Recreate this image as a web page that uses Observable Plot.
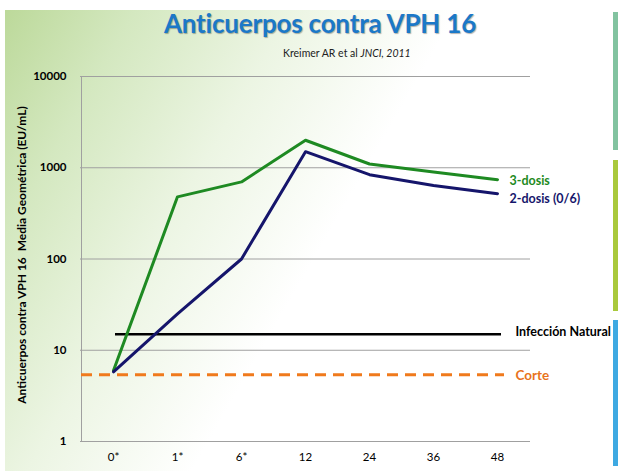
<!DOCTYPE html>
<html><head><meta charset="utf-8">
<script src="https://cdn.jsdelivr.net/npm/d3@7"></script>
<script src="https://cdn.jsdelivr.net/npm/@observablehq/plot@0.6"></script>
<style>
html,body{margin:0;padding:0;background:#fff;}
#wrap{position:relative;width:620px;height:471px;overflow:hidden;font-family:Lato,"Open Sans",sans-serif;}
#bg{position:absolute;left:5px;top:10px;width:605px;height:461px;
 background:linear-gradient(120deg,#bcd99a 0%,#d4e8c0 15%,#ecf5e3 33%,#ffffff 52%);}
#title{position:absolute;left:0;width:640px;top:7px;text-align:center;font-weight:bold;font-size:26px;color:#1b78c8;text-shadow:1px 1px 1px rgba(0,0,0,0.3);letter-spacing:-0.2px;}
#sub{position:absolute;left:283px;top:47px;font-size:10.5px;color:#222;}
.bar{position:absolute;left:613px;width:5px;}
svg{position:absolute;left:0;top:0;}
</style></head>
<body><div id="wrap">
<div id="bg"></div>
<div class="bar" style="top:12px;height:138px;background:#82c3a0"></div>
<div class="bar" style="top:160px;height:151px;background:#a9c93c"></div>
<div class="bar" style="top:320px;height:146px;background:#3ea9e2"></div>
<div id="title">Anticuerpos contra VPH 16</div>
<div id="sub">Kreimer AR et al <i>JNCI, 2011</i></div>
<div id="chart"></div>
</div>
<script>
const months = ["0*","1*","6*","12","24","36","48"];
const tresDosis = [6, 480, 700, 2000, 1100, 900, 740];
const dosDosis = [5.8, 25, 100, 1500, 840, 640, 520];
const infeccionNatural = 15;
const corte = 5.4;
const yTicks = [1, 10, 100, 1000, 10000];

const rows3 = months.map((m,i)=>({m, v: tresDosis[i]}));
const rows2 = months.map((m,i)=>({m, v: dosDosis[i]}));
const first = months[0], last = months[months.length-1];

const chart = Plot.plot({
  width: 620, height: 471,
  marginLeft: 80, marginRight: 90, marginTop: 76, marginBottom: 30,
  style: {background: "transparent", fontFamily: "Lato, 'Open Sans', sans-serif"},
  x: {type: "point", domain: months, padding: 0.5, label: null},
  y: {type: "log", domain: [1, 10000], label: null},
  marks: [
    Plot.ruleY(yTicks, {stroke: "#a0a0a0", strokeWidth: 1}),
    Plot.ruleX([first], {x: d => d, dx: -32, stroke: "#a0a0a0", strokeWidth: 1}),
    Plot.ruleY([corte], {y: d => d, x1: () => first, x2: () => last, stroke: "#f07a1c", strokeWidth: 3, strokeDasharray: "11,7", insetLeft: -32, insetRight: -7}),
    Plot.ruleY([infeccionNatural], {y: d => d, x1: () => first, x2: () => last, stroke: "#000", strokeWidth: 2.5, insetLeft: 2, insetRight: -4}),
    Plot.line(rows3, {x: "m", y: "v", stroke: "#1e8a22", strokeWidth: 3}),
    Plot.line(rows2, {x: "m", y: "v", stroke: "#15156b", strokeWidth: 3}),
    Plot.text(["3-dosis"], {x: () => last, y: () => 760, text: d => d, dx: 12, dy: 2, textAnchor: "start", fill: "#1e8a22", fontWeight: "bold", fontSize: 12.5}),
    Plot.text(["2-dosis (0/6)"], {x: () => last, y: () => 480, text: d => d, dx: 12, dy: 2, textAnchor: "start", fill: "#15156b", fontWeight: "bold", fontSize: 12.5}),
    Plot.text(["Infección Natural"], {x: () => last, y: () => infeccionNatural, text: d => d, dx: 18, dy: -2, textAnchor: "start", fill: "#000", fontWeight: "bold", fontSize: 12.5}),
    Plot.text(["Corte"], {x: () => last, y: () => corte, text: d => d, dx: 18, dy: 1, textAnchor: "start", fill: "#e8731c", fontWeight: "bold", fontSize: 13.5}),
    Plot.text(["Anticuerpos contra VPH 16  Media Geométrica (EU/mL)"], {frameAnchor: "left", textAnchor: "middle", text: d => d, rotate: -90, dx: -58, dy: -4, fill: "#000", fontWeight: "bold", fontSize: 12}),
    Plot.axisY({ticks: yTicks, tickFormat: d => String(d), tickSize: 0, tickPadding: 14, fontWeight: "bold", fontSize: 11.5, label: null}),
    Plot.axisX({tickSize: 0, tickPadding: 11, fontSize: 11.5, label: null})
  ]
});
document.getElementById("chart").appendChild(chart);
</script>
</body></html>
